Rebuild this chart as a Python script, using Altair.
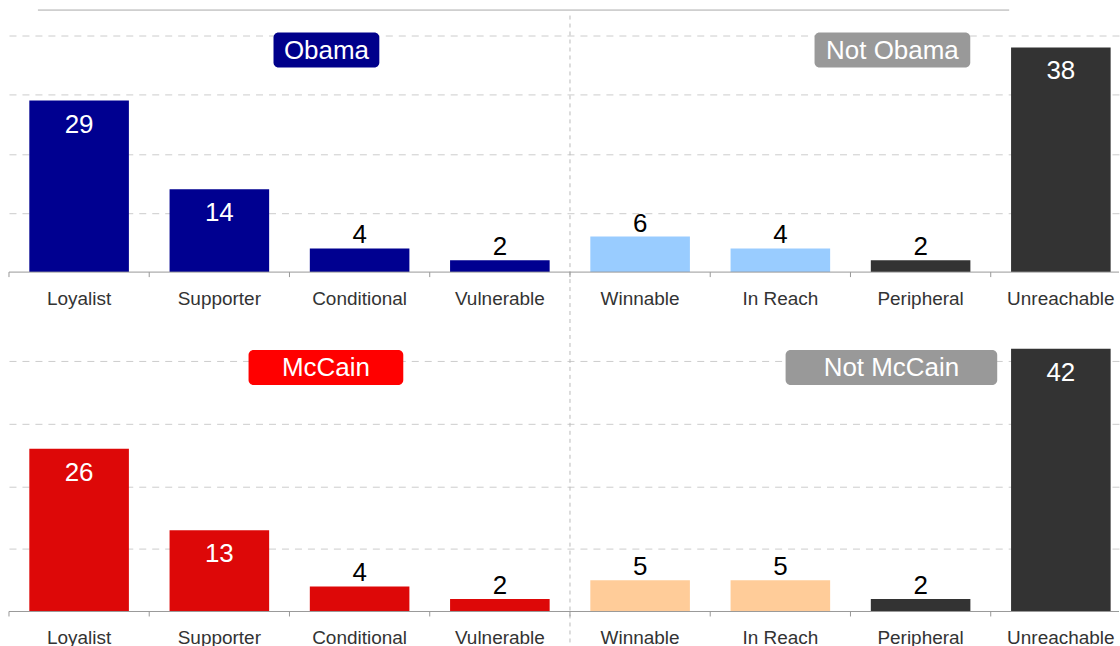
import altair as alt
import pandas as pd

# ---- data ----
cats = ["Loyalist", "Supporter", "Conditional", "Vulnerable",
        "Winnable", "In Reach", "Peripheral", "Unreachable"]
groups = ["own", "own", "own", "own", "soft", "soft", "hard", "hard"]
obama_vals = [29, 14, 4, 2, 6, 4, 2, 38]
mccain_vals = [26, 13, 4, 2, 5, 5, 2, 42]
group_domain = ["own", "soft", "hard"]
obama_colors = ["#000090", "#99CCFF", "#333333"]
mccain_colors = ["#DD0808", "#FFCC99", "#333333"]
grid_values = [10, 20, 30, 40]

FONT = "Liberation Sans"
W = 1112
STEP = 140.5


def box(x1, x2, y1, y2, fill, label):
    d = alt.Chart(pd.DataFrame({"t": [label]}))
    r = d.mark_rect(color=fill, cornerRadius=5).encode(
        x=alt.value(x1), x2=alt.value(x2), y=alt.value(y1), y2=alt.value(y2))
    t = d.mark_text(font=FONT, fontSize=26, color="white", align="center",
                    baseline="middle", dy=1).encode(
        x=alt.value((x1 + x2) / 2), y=alt.value((y1 + y2) / 2), text="t:N")
    return [r, t]


def panel(vals, colors, height, ymax, boxes, top_line=False, sep_top=6, sep_bottom=45):
    df = pd.DataFrame({"cat": cats, "group": groups, "value": vals})
    # step 140.5 px, first band starting 20.4 px in; the last step runs past the edge
    xs = alt.Scale(domain=cats, paddingInner=0.29, paddingOuter=0.1023, align=0.7087)
    ys = alt.Scale(domain=[0, ymax], nice=False, zero=True)
    x = alt.X("cat:N", scale=xs,
              axis=alt.Axis(title=None, domain=False, ticks=False, labelAngle=0,
                            labelFont=FONT, labelFontSize=19, labelColor="#333333",
                            labelPadding=17, grid=False))
    y = alt.Y("value:Q", scale=ys,
              axis=alt.Axis(title=None, labels=False, ticks=False, domain=False,
                            values=grid_values, grid=True, gridDash=[7, 6],
                            gridColor="#cccccc", gridWidth=1))
    base = alt.Chart(df)
    one = alt.Chart(pd.DataFrame({"a": [0]}))
    layers = []
    # vertical separator
    layers.append(
        base.transform_filter(alt.datum.cat == "Winnable")
        .mark_rule(color="#bbbbbb", strokeDash=[4, 4], xOffset=-STEP / 2)
        .encode(x=x, y=alt.value(sep_top), y2=alt.value(height + sep_bottom))
    )
    if top_line:
        layers.append(one.mark_rule(color="#aaaaaa").encode(
            x=alt.value(29), x2=alt.value(1002), y=alt.value(0.5)))
    layers.append(base.mark_bar().encode(
        x=x, y=y,
        color=alt.Color("group:N", scale=alt.Scale(domain=group_domain, range=colors),
                        legend=None)))
    # baseline and ticks
    layers.append(one.mark_rule(color="#999999").encode(
        x=alt.value(0), x2=alt.value(W), y=alt.value(height)))
    layers.append(base.mark_rule(color="#999999", xOffset=-STEP / 2).encode(
        x=x, y=alt.value(height), y2=alt.value(height + 5)))
    # value labels
    layers.append(base.transform_filter(alt.datum.value >= 10)
                  .mark_text(font=FONT, fontSize=26, color="white", baseline="top", dy=11)
                  .encode(x=x, y=y, text="value:Q"))
    layers.append(base.transform_filter(alt.datum.value < 10)
                  .mark_text(font=FONT, fontSize=26, color="black", baseline="alphabetic", dy=-5)
                  .encode(x=x, y=y, text="value:Q"))
    for b in boxes:
        layers.extend(box(*b))
    return alt.layer(*layers).properties(width=W, height=height)


top = panel(obama_vals, obama_colors, 263, 44.4,
            [(265, 371, 23, 58, "#00008B", "Obama"),
             (807, 963, 23, 58, "#999999", "Not Obama")],
            top_line=True, sep_top=6, sep_bottom=45)
bottom = panel(mccain_vals, mccain_colors, 282, 45,
               [(240, 395, 20, 55, "#FF0000", "McCain"),
                (778, 990, 20, 55, "#999999", "Not McCain")],
               sep_top=-11, sep_bottom=40)

chart = alt.vconcat(top, bottom, spacing=0).resolve_scale(
    color="independent"
).properties(
    padding={"left": 8, "top": 9, "right": 0, "bottom": 0}
).configure_view(stroke=None)

chart.save("out.html", embed_options={"renderer": "svg", "actions": False})
